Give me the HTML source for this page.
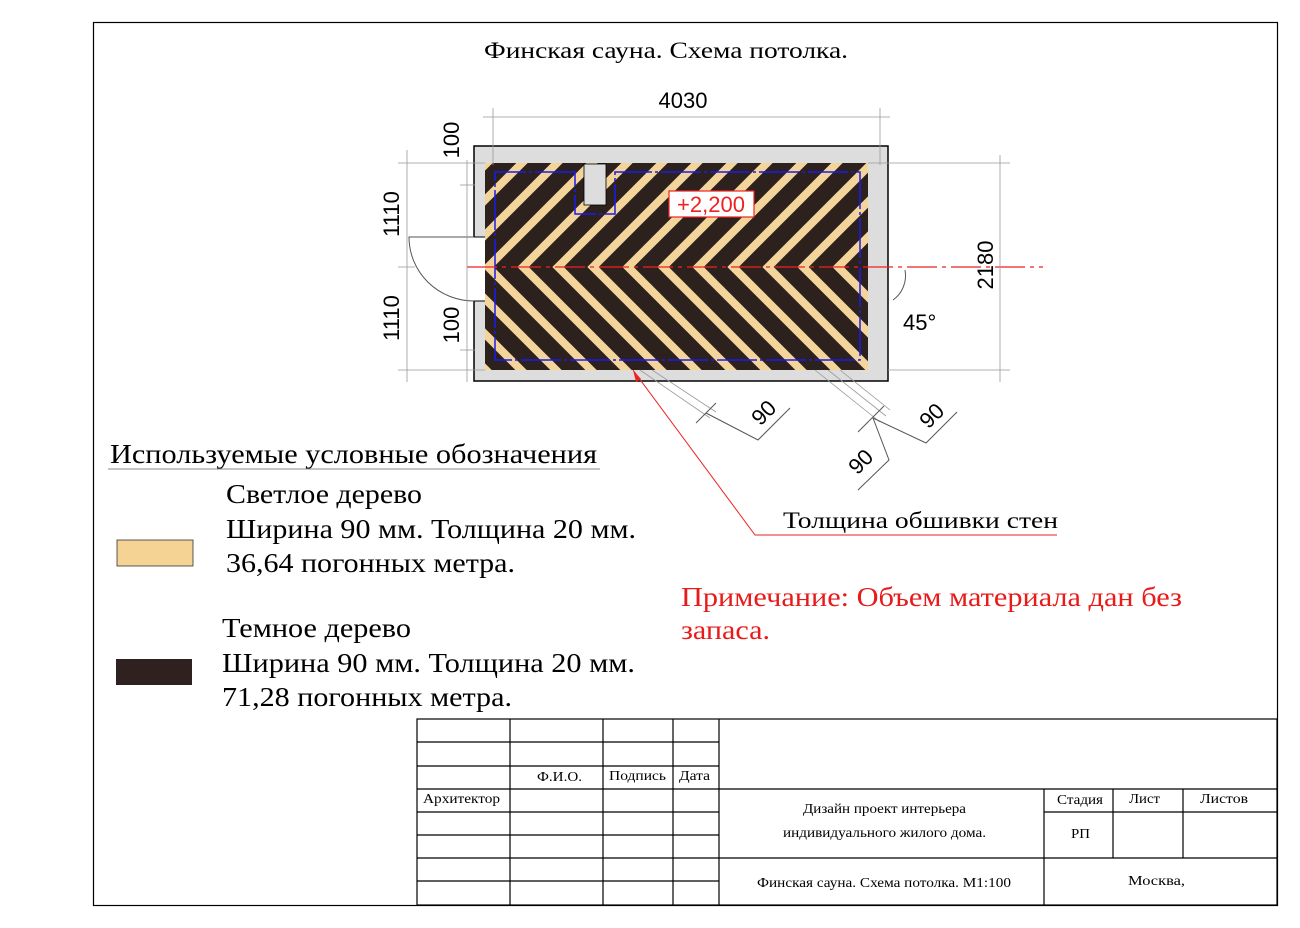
<!DOCTYPE html>
<html><head><meta charset="utf-8"><style>
body{margin:0;background:#fff;width:1300px;height:928px;overflow:hidden}
svg{display:block}
.s{font-family:"Liberation Serif",serif}
.a{font-family:"Liberation Sans",sans-serif}
</style></head><body>
<svg width="1300" height="928" viewBox="0 0 1300 928">
<defs><clipPath id="c"><rect x="485" y="163" width="383" height="207"/></clipPath></defs>
<rect x="93.5" y="22.5" width="1184" height="883" fill="none" stroke="#000" stroke-width="1.2"/>
<text x="484" y="58" class="s" font-size="23" textLength="364" lengthAdjust="spacingAndGlyphs">Финская сауна. Схема потолка.</text>

<!-- room -->
<rect x="474" y="146" width="414" height="235" fill="#ddd" stroke="#000" stroke-width="1.5"/>
<rect x="468" y="237" width="17" height="64" fill="#fff"/>
<line x1="474" y1="237" x2="485" y2="237" stroke="#000"/><line x1="474" y1="301" x2="485" y2="301" stroke="#000"/>
<path d="M474 237 H409 A65 64 0 0 0 474 301" fill="none" stroke="#555"/>
<rect x="485" y="163" width="383" height="207" fill="#2d211e"/>
<g clip-path="url(#c)" fill="none" stroke="#f3d59b" stroke-width="8">
<polyline points="493,157 383,267 493,377"/><polyline points="528,157 418,267 528,377"/>
<polyline points="563,157 453,267 563,377"/><polyline points="598,157 488,267 598,377"/>
<polyline points="633,157 523,267 633,377"/><polyline points="668,157 558,267 668,377"/>
<polyline points="703,157 593,267 703,377"/><polyline points="738,157 628,267 738,377"/>
<polyline points="773,157 663,267 773,377"/><polyline points="808,157 698,267 808,377"/>
<polyline points="843,157 733,267 843,377"/><polyline points="878,157 768,267 878,377"/>
<polyline points="913,157 803,267 913,377"/><polyline points="948,157 838,267 948,377"/>
<polyline points="983,157 873,267 983,377"/>
</g>
<rect x="584" y="164" width="22" height="41" fill="#ddd" stroke="#000" stroke-width="0.8"/>
<path d="M575 172 H495 V360 H860 V172 H615 V214 H575 Z" fill="none" stroke="#1a1aee" stroke-width="1.5" stroke-dasharray="40 3 3 3"/>
<line x1="467" y1="267" x2="1043" y2="267" stroke="#e22" stroke-width="1.3" stroke-dasharray="30 5 4 5"/>
<rect x="669" y="191" width="85" height="26" fill="#fff" stroke="#e22" stroke-width="1.2"/>
<text x="711" y="212" class="a" font-size="22" fill="#e22" text-anchor="middle">+2,200</text>

<!-- dims -->
<g stroke="#999" stroke-width="0.8" fill="none">
<line x1="483" y1="117" x2="890" y2="117"/>
<line x1="493" y1="108" x2="493" y2="165"/><line x1="880" y1="108" x2="880" y2="165"/>
<line x1="407" y1="150" x2="407" y2="382"/><line x1="467" y1="160" x2="467" y2="382"/>
<line x1="398" y1="163" x2="485" y2="163"/><line x1="398" y1="370" x2="485" y2="370"/>
<line x1="398" y1="267" x2="415" y2="267"/><line x1="460" y1="185" x2="475" y2="185"/><line x1="460" y1="350" x2="475" y2="350"/>
<line x1="1000" y1="155" x2="1000" y2="382"/>
<line x1="868" y1="163" x2="1010" y2="163"/><line x1="888" y1="370" x2="1010" y2="370"/>
<line x1="640" y1="370" x2="710" y2="418"/><line x1="652" y1="370" x2="716" y2="412"/>
<line x1="815" y1="370" x2="880" y2="422"/><line x1="828" y1="370" x2="886" y2="416"/><line x1="840" y1="370" x2="890" y2="410"/>
</g>
<g stroke="#555" stroke-width="1" fill="none">
<line x1="696" y1="423" x2="716" y2="403"/><polyline points="706,413 758,440 790,408"/>
<line x1="858" y1="432" x2="884" y2="406"/><polyline points="873,418 926,443 957,412"/>
<polyline points="873,418 889,460 858,490"/>
<path d="M905 270 A30 30 0 0 1 893 300"/>
</g>
<text x="683" y="108" class="a" font-size="22" text-anchor="middle">4030</text>
<text class="a" font-size="22" text-anchor="middle" transform="translate(399,214) rotate(-90)">1110</text>
<text class="a" font-size="22" text-anchor="middle" transform="translate(399,318) rotate(-90)">1110</text>
<text class="a" font-size="22" text-anchor="middle" transform="translate(459,140) rotate(-90)">100</text>
<text class="a" font-size="22" text-anchor="middle" transform="translate(459,325) rotate(-90)">100</text>
<text class="a" font-size="22" text-anchor="middle" transform="translate(993,265) rotate(-90)">2180</text>
<text x="903" y="330" class="a" font-size="22">45°</text>
<text class="a" font-size="22" text-anchor="middle" transform="translate(769,418) rotate(-45)">90</text>
<text class="a" font-size="22" text-anchor="middle" transform="translate(937,421) rotate(-45)">90</text>
<text class="a" font-size="22" text-anchor="middle" transform="translate(866,467) rotate(-45)">90</text>

<!-- leader -->
<polyline points="633,370 755,535 1057,535" fill="none" stroke="#e22" stroke-width="1"/>
<polygon points="633,370 636,382 641,379" fill="#e22"/>
<text x="783" y="528" class="s" font-size="23" textLength="275" lengthAdjust="spacingAndGlyphs">Толщина обшивки стен</text>

<!-- legend -->
<text x="110" y="463" class="s" font-size="27" textLength="487" lengthAdjust="spacingAndGlyphs">Используемые условные обозначения</text>
<line x1="108" y1="469" x2="600" y2="469" stroke="#888" stroke-width="1"/>
<g class="s" font-size="27">
<text x="226" y="503" textLength="196" lengthAdjust="spacingAndGlyphs">Светлое дерево</text>
<text x="226" y="538" textLength="410" lengthAdjust="spacingAndGlyphs">Ширина 90 мм. Толщина 20 мм.</text>
<text x="226" y="572" textLength="289" lengthAdjust="spacingAndGlyphs">36,64 погонных метра.</text>
<text x="222" y="637" textLength="189" lengthAdjust="spacingAndGlyphs">Темное дерево</text>
<text x="222" y="672" textLength="413" lengthAdjust="spacingAndGlyphs">Ширина 90 мм. Толщина 20 мм.</text>
<text x="222" y="706" textLength="290" lengthAdjust="spacingAndGlyphs">71,28 погонных метра.</text>
</g>
<rect x="117" y="540" width="76" height="26" fill="#f5d394" stroke="#333" stroke-width="0.8"/>
<rect x="116" y="659" width="76" height="26" fill="#2f2120"/>
<text x="681" y="606" class="s" font-size="27" fill="#e81a1a" textLength="501" lengthAdjust="spacingAndGlyphs">Примечание: Объем материала дан без</text>
<text x="681" y="639" class="s" font-size="27" fill="#e81a1a" textLength="89" lengthAdjust="spacingAndGlyphs">запаса.</text>

<!-- title block -->
<g stroke="#000" stroke-width="1.2" fill="none">
<rect x="417" y="719" width="860" height="186"/>
<line x1="417" y1="742" x2="719" y2="742"/><line x1="417" y1="766" x2="719" y2="766"/>
<line x1="417" y1="789" x2="1277" y2="789"/><line x1="417" y1="812" x2="719" y2="812"/>
<line x1="417" y1="835" x2="719" y2="835"/><line x1="417" y1="858" x2="1277" y2="858"/>
<line x1="417" y1="881" x2="719" y2="881"/><line x1="1044" y1="812" x2="1277" y2="812"/>
<line x1="510" y1="719" x2="510" y2="905"/><line x1="603" y1="719" x2="603" y2="905"/>
<line x1="673" y1="719" x2="673" y2="905"/><line x1="719" y1="719" x2="719" y2="905"/>
<line x1="1044" y1="789" x2="1044" y2="905"/><line x1="1113" y1="789" x2="1113" y2="858"/><line x1="1183" y1="789" x2="1183" y2="858"/>
</g>
<g class="s" font-size="14">
<text x="537" y="781" textLength="45" lengthAdjust="spacingAndGlyphs">Ф.И.О.</text>
<text x="609" y="780" textLength="57" lengthAdjust="spacingAndGlyphs">Подпись</text>
<text x="679" y="780" textLength="31" lengthAdjust="spacingAndGlyphs">Дата</text>
<text x="423" y="803" textLength="77" lengthAdjust="spacingAndGlyphs">Архитектор</text>
<text x="803" y="813" textLength="163" lengthAdjust="spacingAndGlyphs">Дизайн проект интерьера</text>
<text x="783" y="837" textLength="203" lengthAdjust="spacingAndGlyphs">индивидуального жилого дома.</text>
<text x="1057" y="804" textLength="46" lengthAdjust="spacingAndGlyphs">Стадия</text>
<text x="1129" y="803" textLength="31" lengthAdjust="spacingAndGlyphs">Лист</text>
<text x="1200" y="803" textLength="48" lengthAdjust="spacingAndGlyphs">Листов</text>
<text x="1071" y="838" textLength="19" lengthAdjust="spacingAndGlyphs">РП</text>
<text x="757" y="887" textLength="254" lengthAdjust="spacingAndGlyphs">Финская сауна. Схема потолка. М1:100</text>
<text x="1128" y="885" textLength="57" lengthAdjust="spacingAndGlyphs">Москва,</text>
</g>
</svg>
</body></html>
